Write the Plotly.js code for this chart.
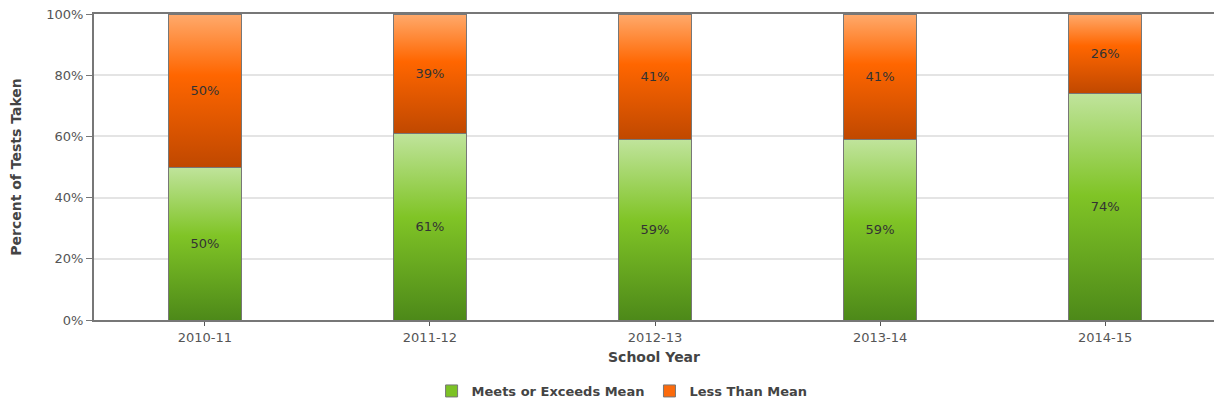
<!DOCTYPE html>
<html>
<head>
<meta charset="utf-8">
<script src="https://cdn.plot.ly/plotly-3.0.1.min.js"></script>
<style>html,body{margin:0;padding:0;background:#fff;}#chart{width:1214px;height:407px;}</style>
</head>
<body>
<div id="chart"></div>
<script>
const years = ["2010-11", "2011-12", "2012-13", "2013-14", "2014-15"];
const meetsOrExceeds = [50, 61, 59, 59, 74];
const lessThanMean = [50, 39, 41, 41, 26];
const seriesNames = ["Meets or Exceeds Mean", "Less Than Mean"];
const yTickVals = [0, 20, 40, 60, 80, 100];
const yTickText = ["0%", "20%", "40%", "60%", "80%", "100%"];

const font = "Verdana, 'DejaVu Sans', sans-serif";

const traces = [
  {
    type: "bar", name: seriesNames[0], x: years, y: meetsOrExceeds,
    text: meetsOrExceeds.map(v => v + "%"), textposition: "inside", insidetextanchor: "middle",
    textfont: {family: font, size: 13, color: "#333"},
    marker: {color: "#7cc224", line: {color: "#777", width: 1}},
    width: 0.325, hoverinfo: "none"
  },
  {
    type: "bar", name: seriesNames[1], x: years, y: lessThanMean,
    text: lessThanMean.map(v => v + "%"), textposition: "inside", insidetextanchor: "middle",
    textfont: {family: font, size: 13, color: "#333"},
    marker: {color: "#fb6a0c", line: {color: "#777", width: 1}},
    width: 0.325, hoverinfo: "none"
  }
];

const layout = {
  width: 1214, height: 407,
  margin: {l: 94, r: 0, t: 14, b: 87},
  barmode: "stack",
  paper_bgcolor: "#fff", plot_bgcolor: "#fff",
  font: {family: font, size: 13, color: "#444"},
  xaxis: {
    type: "category", range: [-0.493, 4.484],
    showline: true, linecolor: "#777", linewidth: 2, mirror: true,
    ticks: "outside", ticklen: 4, tickcolor: "#555", tickwidth: 1,
    tickfont: {family: font, size: 13, color: "#555"},
    title: {text: "<b>School Year</b>", font: {family: font, size: 14, color: "#444"}, standoff: 9},
    showgrid: false, zeroline: false
  },
  yaxis: {
    range: [0, 100], tickvals: yTickVals, ticktext: yTickText,
    showline: true, linecolor: "#777", linewidth: 2, mirror: true,
    ticks: "outside", ticklen: 6, tickcolor: "#777", tickwidth: 1,
    tickfont: {family: font, size: 13, color: "#555"},
    gridcolor: "#e4e4e4", gridwidth: 2, zeroline: false,
    title: {text: "<b>Percent of Tests Taken</b>", font: {family: font, size: 14, color: "#444"}, standoff: 21}
  },
  showlegend: true,
  legend: {
    orientation: "h", x: 0.4715, xanchor: "center", y: -0.232, yanchor: "middle",
    font: {family: font, size: 13, color: "#444", weight: "bold"},
    traceorder: "normal", itemwidth: 30
  }
};

Plotly.newPlot("chart", traces, layout, {displayModeBar: false, staticPlot: true}).then(gd => {
  const svg = gd.querySelector("svg.main-svg");
  const ns = "http://www.w3.org/2000/svg";
  let defs = svg.querySelector("defs");
  if (!defs) { defs = document.createElementNS(ns, "defs"); svg.insertBefore(defs, svg.firstChild); }
  const grads = {
    gGreen: [[0, "#c0e49c"], [0.45, "#80c426"], [1, "#4d8919"]],
    gOrange: [[0, "#ffaa6c"], [0.4, "#ff6600"], [1, "#c04800"]]
  };
  Object.keys(grads).forEach(id => {
    const lg = document.createElementNS(ns, "linearGradient");
    lg.setAttribute("id", id);
    lg.setAttribute("x1", "0"); lg.setAttribute("y1", "0");
    lg.setAttribute("x2", "0"); lg.setAttribute("y2", "1");
    grads[id].forEach(([o, c]) => {
      const s = document.createElementNS(ns, "stop");
      s.setAttribute("offset", o); s.setAttribute("stop-color", c);
      lg.appendChild(s);
    });
    defs.appendChild(lg);
  });
  const barTraces = gd.querySelectorAll(".barlayer .trace.bars");
  barTraces.forEach((t, i) => {
    const id = i === 0 ? "gGreen" : "gOrange";
    t.querySelectorAll(".point path").forEach(p => { p.style.fill = "url(#" + id + ")"; });
  });
});
</script>
</body>
</html>
